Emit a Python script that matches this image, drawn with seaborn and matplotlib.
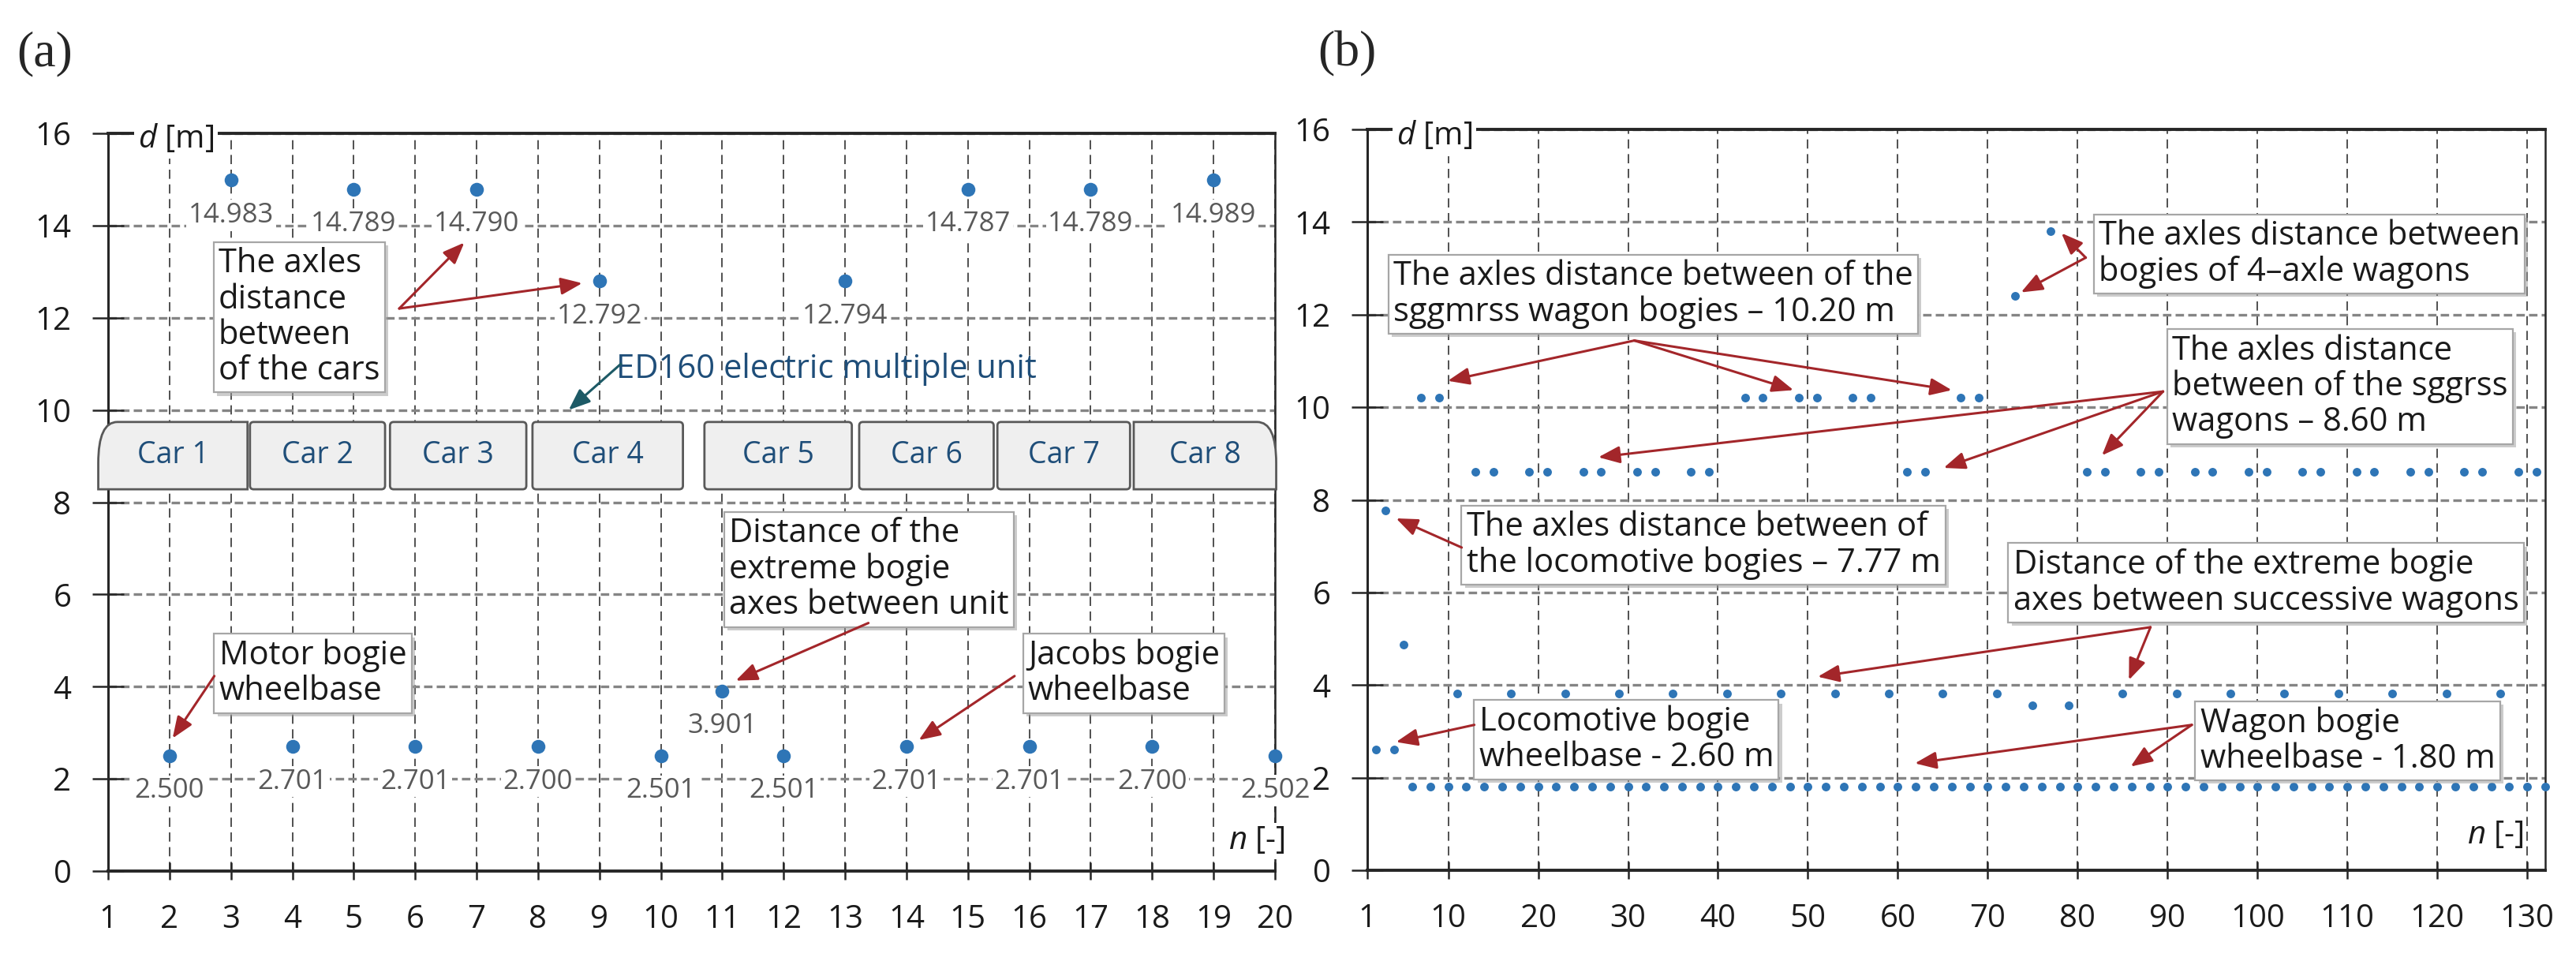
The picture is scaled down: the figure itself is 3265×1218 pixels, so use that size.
import matplotlib
matplotlib.use("Agg")
import matplotlib.pyplot as plt
import matplotlib.patheffects as pe
from matplotlib.patches import PathPatch, FancyBboxPatch
from matplotlib.path import Path
import seaborn as sns

# ---------------- data ----------------
# (a) ED160 EMU: axle index and axle distance [m]
n_a = [2, 3, 4, 5, 6, 7, 8, 9, 10, 11, 12, 13, 14, 15, 16, 17, 18, 19, 20]
d_a = [2.500, 14.983, 2.701, 14.789, 2.701, 14.790, 2.700, 12.792, 2.501, 3.901,
       2.501, 12.794, 2.701, 14.787, 2.701, 14.789, 2.700, 14.989, 2.502]

car_names = ["Car 1", "Car 2", "Car 3", "Car 4", "Car 5", "Car 6", "Car 7", "Car 8"]
car_start = [0.84, 3.31, 5.59, 7.91, 10.71, 13.23, 15.48, 17.70]
car_end = [3.27, 5.51, 7.81, 10.36, 13.11, 15.42, 17.64, 20.02]
car_bottom, car_top = 8.28, 9.74

# (b) freight train: locomotive + wagons
n_b = [2, 3, 4, 5,
       6, 7, 8, 9, 10, 11,
       12, 13, 14, 15, 16, 17,
       18, 19, 20, 21, 22, 23,
       24, 25, 26, 27, 28, 29,
       30, 31, 32, 33, 34, 35,
       36, 37, 38, 39, 40, 41,
       42, 43, 44, 45, 46, 47,
       48, 49, 50, 51, 52, 53,
       54, 55, 56, 57, 58, 59,
       60, 61, 62, 63, 64, 65,
       66, 67, 68, 69, 70, 71,
       72, 73, 74, 75,
       76, 77, 78, 79,
       80, 81, 82, 83, 84, 85,
       86, 87, 88, 89, 90, 91,
       92, 93, 94, 95, 96, 97,
       98, 99, 100, 101, 102, 103,
       104, 105, 106, 107, 108, 109,
       110, 111, 112, 113, 114, 115,
       116, 117, 118, 119, 120, 121,
       122, 123, 124, 125, 126, 127,
       128, 129, 130, 131, 132]
d_b = [2.60, 7.77, 2.60, 4.87,
       1.80, 10.20, 1.80, 10.20, 1.80, 3.82,
       1.80, 8.60, 1.80, 8.60, 1.80, 3.82,
       1.80, 8.60, 1.80, 8.60, 1.80, 3.82,
       1.80, 8.60, 1.80, 8.60, 1.80, 3.82,
       1.80, 8.60, 1.80, 8.60, 1.80, 3.82,
       1.80, 8.60, 1.80, 8.60, 1.80, 3.82,
       1.80, 10.20, 1.80, 10.20, 1.80, 3.82,
       1.80, 10.20, 1.80, 10.20, 1.80, 3.82,
       1.80, 10.20, 1.80, 10.20, 1.80, 3.82,
       1.80, 8.60, 1.80, 8.60, 1.80, 3.82,
       1.80, 10.20, 1.80, 10.20, 1.80, 3.82,
       1.80, 12.40, 1.80, 3.56,
       1.80, 13.80, 1.80, 3.56,
       1.80, 8.60, 1.80, 8.60, 1.80, 3.82,
       1.80, 8.60, 1.80, 8.60, 1.80, 3.82,
       1.80, 8.60, 1.80, 8.60, 1.80, 3.82,
       1.80, 8.60, 1.80, 8.60, 1.80, 3.82,
       1.80, 8.60, 1.80, 8.60, 1.80, 3.82,
       1.80, 8.60, 1.80, 8.60, 1.80, 3.82,
       1.80, 8.60, 1.80, 8.60, 1.80, 3.82,
       1.80, 8.60, 1.80, 8.60, 1.80, 3.82,
       1.80, 8.60, 1.80, 8.60, 1.80]

xticks_a = [1, 2, 3, 4, 5, 6, 7, 8, 9, 10, 11, 12, 13, 14, 15, 16, 17, 18, 19, 20]
xticks_b = [1, 10, 20, 30, 40, 50, 60, 70, 80, 90, 100, 110, 120, 130]
yticks = [0, 2, 4, 6, 8, 10, 12, 14, 16]

BLUE = "#2e75b6"
RED = "#a3262a"
TEAL = "#1d5a66"
NAVY = "#1f4e79"
INK = "#1a1a1a"

# ---------------- style ----------------
sns.set_style("white")
plt.rcParams["font.family"] = ["Open Sans", "DejaVu Sans"]
plt.rcParams["mathtext.fontset"] = "custom"
plt.rcParams["mathtext.it"] = "Open Sans:italic"
plt.rcParams["mathtext.rm"] = "Open Sans"

W, H = 3265, 1218
fig = plt.figure(figsize=(W / 100, H / 100), dpi=100)


def px_axes(x0, x1, ytop, ybot):
    return fig.add_axes([x0 / W, 1 - ybot / H, (x1 - x0) / W, (ybot - ytop) / H])


ax_a = px_axes(137, 1616, 169, 1104)
ax_b = px_axes(1733, 3226, 164, 1103)


def style(ax, xmax, xticks):
    ax.set_xlim(1, xmax)
    ax.set_ylim(0, 16)
    ax.set_xticks(xticks)
    ax.set_yticks(yticks)
    ax.set_axisbelow(True)
    ax.grid(axis="y", color="#858585", lw=2.4, ls=(0, (3.2, 1.6)))
    ax.grid(axis="x", color="#505050", lw=1.4, ls=(0, (6, 3.6)))
    for side, lw in [("top", 2.8), ("bottom", 2.8), ("left", 2.2), ("right", 1.8)]:
        ax.spines[side].set_visible(True)
        ax.spines[side].set_color("#262626")
        ax.spines[side].set_linewidth(lw)
    ax.tick_params(axis="x", bottom=True, direction="inout", length=16, width=1.8,
                   color="#262626", pad=22, labelsize=29, labelcolor=INK)
    ax.tick_params(axis="y", left=True, direction="inout", length=29, width=1.8,
                   color="#262626", pad=19, labelsize=29, labelcolor=INK)
    ax.set_xlabel("")
    ax.set_ylabel("")


def note(ax, text, left, top, arrows, boxed=True, color=INK, acolor=RED):
    kw = {}
    if boxed:
        kw["bbox"] = dict(boxstyle="square,pad=0.15", fc="white", ec="#a6a6a6", lw=1.6)
    t = ax.annotate(text, xy=(left, top), xytext=(6, -6), textcoords="offset pixels",
                    ha="left", va="top", fontsize=30, linespacing=1.1, color=color,
                    zorder=8, annotation_clip=False, **kw)
    if boxed:
        t.get_bbox_patch().set_path_effects(
            [pe.withSimplePatchShadow(offset=(3, -3), shadow_rgbFace="#9a9a9a", alpha=0.5)])
    for start, tip in arrows:
        ax.annotate("", xy=tip, xytext=start,
                    arrowprops=dict(arrowstyle="-|>,head_length=0.55,head_width=0.22",
                                    color=acolor, lw=2.2, mutation_scale=30,
                                    shrinkA=0, shrinkB=0), zorder=9)


# ---------------- panel (a) ----------------
sns.scatterplot(x=n_a, y=d_a, ax=ax_a, color=BLUE, s=160, linewidth=0, zorder=4, clip_on=False)
style(ax_a, 20, xticks_a)

for x, y in zip(n_a, d_a):
    ax_a.annotate(f"{y:.3f}", xy=(x, y), xytext=(0, -32), textcoords="offset points",
                  ha="center", va="center", fontsize=25, color="#595959", zorder=3,
                  bbox=dict(boxstyle="square,pad=0.08", fc="white", ec="none"),
                  annotation_clip=False)

# EMU car bodies
for k, (name, x0, x1) in enumerate(zip(car_names, car_start, car_end)):
    if k == 0 or k == len(car_names) - 1:
        if k == 0:
            verts = [(x1, car_bottom), (x0, car_bottom), (x0, 8.85), (x0, car_top),
                     (x0 + 0.31, car_top), (x1, car_top), (x1, car_bottom)]
        else:
            verts = [(x0, car_bottom), (x1, car_bottom), (x1, 8.85), (x1, car_top),
                     (x1 - 0.31, car_top), (x0, car_top), (x0, car_bottom)]
        codes = [Path.MOVETO, Path.LINETO, Path.LINETO, Path.CURVE3, Path.CURVE3,
                 Path.LINETO, Path.CLOSEPOLY]
        body = PathPatch(Path(verts, codes), fc="#efefef", ec="#595959", lw=2,
                         zorder=5, clip_on=False)
    else:
        body = FancyBboxPatch((x0, car_bottom), x1 - x0, car_top - car_bottom,
                              boxstyle="round,pad=0,rounding_size=0.06",
                              mutation_aspect=1.33, fc="#efefef", ec="#595959",
                              lw=2, zorder=5, clip_on=False)
    ax_a.add_patch(body)
    ax_a.text((x0 + x1) / 2, (car_bottom + car_top) / 2, name, ha="center", va="center",
              fontsize=27, color=NAVY, zorder=6)

note(ax_a, "The axles\ndistance\nbetween\nof the cars", 2.72, 13.63,
     [((5.74, 12.2), (6.8, 13.63)), ((5.74, 12.2), (8.72, 12.75))])
note(ax_a, "Distance of the\nextreme bogie\naxes between unit", 11.03, 7.78,
     [((13.38, 5.38), (11.22, 4.13))])
note(ax_a, "Motor bogie\nwheelbase", 2.73, 5.14, [((2.73, 4.23), (2.05, 2.88))])
note(ax_a, "Jacobs bogie\nwheelbase", 15.9, 5.14, [((15.76, 4.23), (14.2, 2.84))])
note(ax_a, "ED160 electric multiple unit", 9.2, 11.35, [((9.35, 11.0), (8.5, 10.0))],
     boxed=False, color=NAVY, acolor=TEAL)

ax_a.text(1.49, 15.88, r"$d$ [m]", fontsize=29, ha="left", va="center", color=INK,
          zorder=7, bbox=dict(boxstyle="square,pad=0.12", fc="white", ec="none"))
ax_a.text(19.7, 0.65, r"$n$ [-]", fontsize=29, ha="center", va="center", color=INK,
          zorder=7, bbox=dict(boxstyle="square,pad=0.08", fc="white", ec="none"))

# ---------------- panel (b) ----------------
sns.scatterplot(x=n_b, y=d_b, ax=ax_b, color=BLUE, s=62, linewidth=0, zorder=4, clip_on=False)
style(ax_b, 132, xticks_b)

note(ax_b, "The axles distance between of the\nsggmrss wagon bogies \u2013 10.20 m", 3.37, 13.29,
     [((30.7, 11.44), (9.95, 10.57)), ((30.7, 11.44), (48.4, 10.37)),
      ((30.7, 11.44), (66.0, 10.37))])
note(ax_b, "The axles distance between\nbogies of 4\u2013axle wagons", 81.8, 14.16,
     [((80.9, 13.23), (78.2, 13.76)), ((80.9, 13.23), (73.7, 12.48))])
note(ax_b, "The axles distance\nbetween of the sggrss\nwagons \u2013 8.60 m", 90.0, 11.68,
     [((89.5, 10.34), (26.7, 8.92)), ((89.5, 10.34), (65.1, 8.69)),
      ((89.5, 10.34), (82.7, 8.96))])
note(ax_b, "The axles distance between of\nthe locomotive bogies \u2013 7.77 m", 11.5, 7.87,
     [((11.5, 6.97), (4.2, 7.6))])
note(ax_b, "Distance of the extreme bogie\naxes between successive wagons", 72.3, 7.06,
     [((88.1, 5.25), (51.1, 4.18)), ((88.1, 5.25), (85.7, 4.11))])
note(ax_b, "Locomotive bogie\nwheelbase - 2.60 m", 12.9, 3.67, [((12.9, 3.14), (4.2, 2.77))])
note(ax_b, "Wagon bogie\nwheelbase - 1.80 m", 93.1, 3.64,
     [((92.7, 3.14), (61.9, 2.31)), ((92.7, 3.14), (85.9, 2.24))])

ax_b.text(4.25, 15.85, r"$d$ [m]", fontsize=29, ha="left", va="center", color=INK,
          zorder=7, bbox=dict(boxstyle="square,pad=0.12", fc="white", ec="none"))
ax_b.text(126.5, 0.76, r"$n$ [-]", fontsize=29, ha="center", va="center", color=INK,
          zorder=7, bbox=dict(boxstyle="square,pad=0.08", fc="white", ec="none"))

fig.text(21 / W, 1 - 68 / H, "(a)", fontsize=46, family="Liberation Serif", va="center", ha="left")
fig.text(1670 / W, 1 - 68 / H, "(b)", fontsize=46, family="Liberation Serif", va="center", ha="left")

fig.savefig("out.png", dpi=100, facecolor="white")
